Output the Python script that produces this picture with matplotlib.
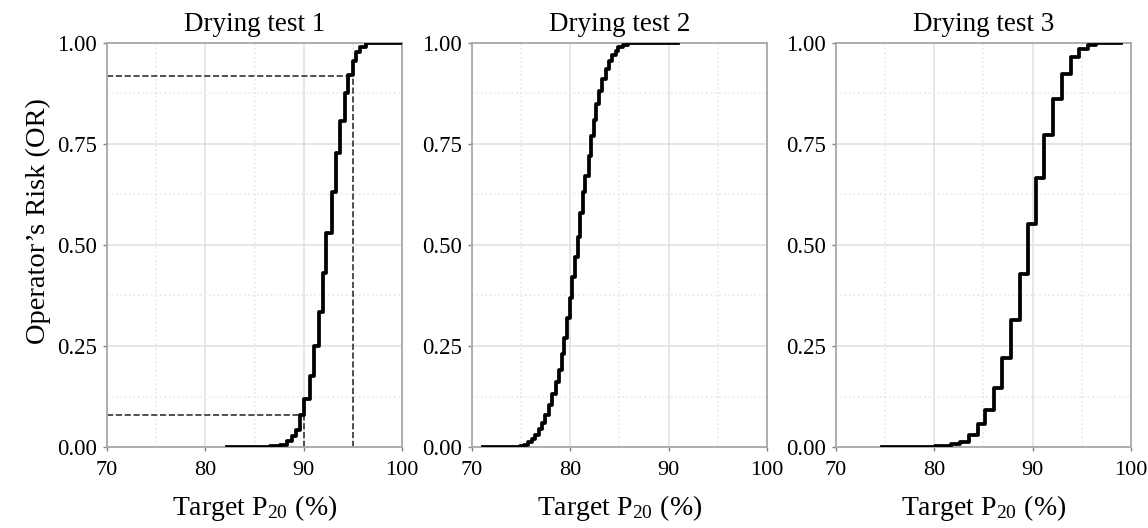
import matplotlib
matplotlib.use("Agg")
import matplotlib.pyplot as plt
from matplotlib.ticker import MultipleLocator

plt.rcParams['font.family'] = ['Liberation Serif', 'DejaVu Serif']
plt.rcParams['mathtext.fontset'] = 'stix'

titles = ["Drying test 1", "Drying test 2", "Drying test 3"]
x_ticks = [70, 80, 90, 100]
y_ticks = [0.00, 0.25, 0.50, 0.75, 1.00]

x1 = [82.2, 86.6, 87.6, 88.3, 88.8, 89.2, 89.6, 90.05, 90.6, 91.07, 91.6, 91.95,
      92.3, 92.85, 93.3, 93.7, 94.2, 94.55, 95.0, 95.35, 95.75, 96.3, 100.0]
y1 = [0.0, 0.002, 0.006, 0.015, 0.028, 0.043, 0.078, 0.12, 0.176, 0.25, 0.335, 0.43,
      0.53, 0.63, 0.727, 0.807, 0.875, 0.92, 0.955, 0.978, 0.99, 1.0, 1.0]

x2 = [71.1, 74.9, 75.25, 75.7, 76.1, 76.4, 76.8, 77.1, 77.45, 77.8, 78.1, 78.5, 78.9,
      79.15, 79.4, 79.7, 80.0, 80.2, 80.5, 80.75, 81.0, 81.3, 81.5, 81.9, 82.1, 82.4,
      82.6, 82.9, 83.2, 83.6, 83.9, 84.2, 84.6, 84.9, 85.4, 85.9, 91.0]
y2 = [0.0, 0.002, 0.006, 0.012, 0.02, 0.03, 0.045, 0.06, 0.08, 0.105, 0.13, 0.16, 0.19,
      0.23, 0.27, 0.32, 0.37, 0.42, 0.47, 0.52, 0.58, 0.63, 0.67, 0.72, 0.77, 0.81,
      0.85, 0.88, 0.91, 0.935, 0.955, 0.97, 0.98, 0.99, 0.996, 1.0, 1.0]

x3 = [74.7, 80.05, 81.7, 82.6, 83.5, 84.4, 85.2, 86.1, 86.9, 87.8, 88.7, 89.5, 90.36,
      91.2, 92.05, 93.0, 93.9, 94.7, 95.6, 96.45, 99.0]
y3 = [0.0, 0.002, 0.007, 0.013, 0.03, 0.056, 0.092, 0.147, 0.221, 0.315, 0.429, 0.553,
      0.667, 0.773, 0.861, 0.922, 0.965, 0.985, 0.994, 1.0, 1.0]

# reference guides for test 1
lo_x, lo_y = 90.0, 0.078
hi_x, hi_y = 95.05, 0.918

series = [(x1, y1), (x2, y2), (x3, y3)]

fig = plt.figure(figsize=(11.48, 5.28), dpi=100)
lefts = [0.0932, 0.4111, 0.7282]
axes = []
for i, (left, (xs, ys)) in enumerate(zip(lefts, series)):
    ax = fig.add_axes([left, 0.1534, 0.257, 0.7652])
    axes.append(ax)
    ax.set_xlim(70, 100)
    ax.set_ylim(0, 1)
    ax.set_xticks(x_ticks)
    ax.set_yticks(y_ticks)
    ax.set_yticklabels([f"{v:.2f}" for v in y_ticks])
    ax.xaxis.set_minor_locator(MultipleLocator(5))
    ax.yaxis.set_minor_locator(MultipleLocator(0.125))
    ax.grid(True, which='major', color='#e2e2e2', linewidth=1.2, linestyle='-')
    ax.grid(True, which='minor', color='#e8e8e8', linewidth=1.2, linestyle=':')
    ax.set_axisbelow(True)
    for s in ax.spines.values():
        s.set_color('#a8a8a8')
        s.set_linewidth(1.3)
    ax.tick_params(which='major', length=3, width=1, color='#808080')
    ax.tick_params(axis='x', which='major', labelsize=16, pad=7)
    ax.tick_params(axis='y', which='major', labelsize=16.5, pad=4)
    ax.tick_params(which='minor', length=0)
    ax.step(xs, ys, where='post', color='black', linewidth=2.7, zorder=3)
    ax.text(0.5, 1.03, titles[i], transform=ax.transAxes, ha='center',
            va='baseline', fontsize=19.5)
    ax.set_xlabel('Target P$_\\mathregular{20}$ (%)', fontsize=20, va='center')
    ax.xaxis.set_label_coords(0.5, -0.152)

ax = axes[0]
ax.plot([70, lo_x], [lo_y, lo_y], color='#333333', linestyle='--', linewidth=1.2, zorder=2)
ax.plot([lo_x, lo_x], [0, lo_y], color='#333333', linestyle='--', linewidth=1.2, zorder=2)
ax.plot([70, hi_x], [hi_y, hi_y], color='#333333', linestyle='--', linewidth=1.2, zorder=2)
ax.plot([hi_x, hi_x], [0, hi_y], color='#333333', linestyle='--', linewidth=1.2, zorder=2)
ax.set_ylabel("Operator\u2019s Risk (OR)", fontsize=20.5, va='center')
ax.yaxis.set_label_coords(-0.231, 0.56)

fig.savefig("out.png", dpi=100, facecolor='white')
